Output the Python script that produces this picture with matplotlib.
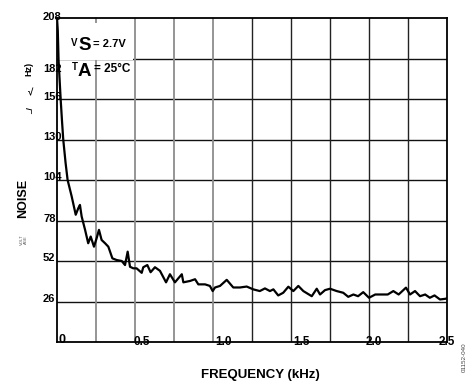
import matplotlib
matplotlib.use("Agg")
import matplotlib.pyplot as plt
from matplotlib.patches import Rectangle

plt.rcParams['font.family'] = ['Liberation Sans', 'DejaVu Sans']

# ---- data ----
freq_khz = [0.0, 0.005, 0.01, 0.018, 0.024, 0.032, 0.04, 0.055, 0.068, 0.094, 0.12, 0.137,
            0.147, 0.158, 0.18, 0.2, 0.216, 0.237, 0.254, 0.269, 0.286, 0.308, 0.329, 0.355,
            0.383, 0.415, 0.436, 0.453, 0.468, 0.489, 0.51, 0.543, 0.553, 0.579, 0.60, 0.628,
            0.66, 0.699, 0.724, 0.756, 0.80, 0.81, 0.853, 0.885, 0.906, 0.949, 0.98, 0.998,
            1.013, 1.045, 1.088, 1.13, 1.173, 1.216, 1.258, 1.30, 1.333, 1.365, 1.387, 1.418,
            1.45, 1.483, 1.515, 1.547, 1.579, 1.633, 1.665, 1.686, 1.718, 1.75, 1.793, 1.835,
            1.867, 1.90, 1.93, 1.963, 2.00, 2.04, 2.08, 2.12, 2.156, 2.19, 2.237, 2.263, 2.295,
            2.327, 2.36, 2.39, 2.42, 2.455, 2.487, 2.5]
noise = [208, 200, 181, 166, 155, 142, 130, 115, 104, 93.5, 81.7, 86,
         88, 80.6, 72, 63.4, 67.7, 61.2, 66.6, 72, 65.5, 63.4, 61.2, 53.7,
         52.6, 52, 49.4, 58, 48.3, 47.3, 47.3, 44.4, 48, 49.4, 44.8, 48,
         45.7, 38.3, 43.5, 38.3, 43.5, 38.3, 39.2, 40.3, 37, 37, 36, 32.7,
         35, 36, 39.9, 35, 35, 35.6, 33.8, 32.7, 34.4, 32.7, 33.8, 29.9,
         31.6, 35.5, 32.7, 36, 32.7, 29.4, 34.2, 30.5, 33.3, 34.2, 32.7, 31.6,
         29, 30.5, 29.4, 32, 28.4, 30.5, 30.5, 30.5, 32.7, 30.5, 34.9, 30.5, 32.7,
         29.4, 30.5, 28.4, 29.9, 27.3, 27.7, 28]

y_ticks = [0, 26, 52, 78, 104, 130, 156, 182, 208]
y_tick_labels = ['0', '26', '52', '78', '104', '130', '156', '182', '208']
x_ticks = [0.5, 1.0, 1.5, 2.0, 2.5]
x_tick_labels = ['0.5', '1.0', '1.5', '2.0', '2.5']
x_grid = [0.25, 0.5, 0.75, 1.0, 1.25, 1.5, 1.75, 2.0, 2.25]

# ---- layout (pixel offsets of labels) ----
y_label_offsets = [(1, 2), (-14, 3), (-14, 3), (-14, 2), (-14, 3), (-14, 2), (-14, 2), (-14, -11), (-14, 1)]
y_label_sizes = [9, 8, 8, 8, 8, 8, 8, 8, 8]
x_label_offsets = [(7, 0), (11, 0), (11, 0), (5, 0), (0, 0)]

W, H = 469, 384
fig = plt.figure(figsize=(W / 100, H / 100), dpi=100)
ax = fig.add_axes([57 / W, 1 - 342 / H, 390 / W, 324 / H])
ax.set_xlim(0, 2.5)
ax.set_ylim(0, 208)

for v in y_ticks[1:-1]:
    ax.axhline(v, color='#111111', lw=1.0, zorder=1)
for v in x_grid:
    ax.axvline(v, color='#8c8c8c' if v <= 1.0 else '#222222', lw=1.3 if v <= 1.0 else 1.0, zorder=1)

# white box behind annotation text
ax.add_patch(Rectangle((0.004, 181), 0.48, 24, facecolor='white', edgecolor='none', zorder=2))

ax.plot(freq_khz, noise, color='black', lw=1.6, zorder=3, solid_joinstyle='round')

for s in ax.spines.values():
    s.set_color('black')
    s.set_linewidth(1.3)
    s.set_zorder(4)
ax.set_xticks([])
ax.set_yticks([])

for v, lab, (dx, dy), fs in zip(y_ticks, y_tick_labels, y_label_offsets, y_label_sizes):
    ax.annotate(lab, xy=(0, v), xycoords=('axes fraction', 'data'), xytext=(dx, dy),
                textcoords='offset pixels', ha='left', va='center', fontsize=fs,
                fontweight='bold', zorder=5)
for v, lab, (dx, dy) in zip(x_ticks, x_tick_labels, x_label_offsets):
    ax.annotate(lab, xy=(v, 0), xycoords=('data', 'axes fraction'), xytext=(dx, dy),
                textcoords='offset pixels', ha='center', va='center',
                fontsize=8.5, fontweight='bold', zorder=5)

def ft(x, y, s, **kw):
    fig.text(x / W, 1 - y / H, s, **kw)

# axis titles
ft(260, 375, 'FREQUENCY (kHz)', ha='center', va='center', fontsize=9.5, fontweight='bold')
ft(23, 198, 'NOISE', ha='center', va='center', rotation=90, fontsize=9, fontweight='bold')
ft(29, 69, 'Hz)', ha='center', va='center', rotation=90, fontsize=6.5, fontweight='bold')
ft(31, 92, '√', ha='center', va='center', rotation=0, fontsize=7, fontweight='bold')
ft(30, 110, '_/', ha='center', va='center', rotation=90, fontsize=6, fontweight='bold')
ft(24, 240, 'VOLT\nAGE', ha='center', va='center', rotation=90, fontsize=3, color='#555555',
   linespacing=1.0)
ft(464, 357, '01152-040', ha='center', va='center', rotation=90, fontsize=4.5, color='#444444')

# annotation text
ft(71, 43, 'V', ha='left', va='center', fontsize=7, fontweight='bold')
ft(78, 46, 'S', ha='left', va='center', fontsize=13.5, fontweight='bold')
ft(93, 44, '= 2.7V', ha='left', va='center', fontsize=8, fontweight='bold')
ft(72, 67, 'T', ha='left', va='center', fontsize=7, fontweight='bold')
ft(78, 72, 'A', ha='left', va='center', fontsize=13.5, fontweight='bold')
ft(94, 69, '= 25°C', ha='left', va='center', fontsize=8.5, fontweight='bold')

fig.savefig('out.png', dpi=100, facecolor='white')
